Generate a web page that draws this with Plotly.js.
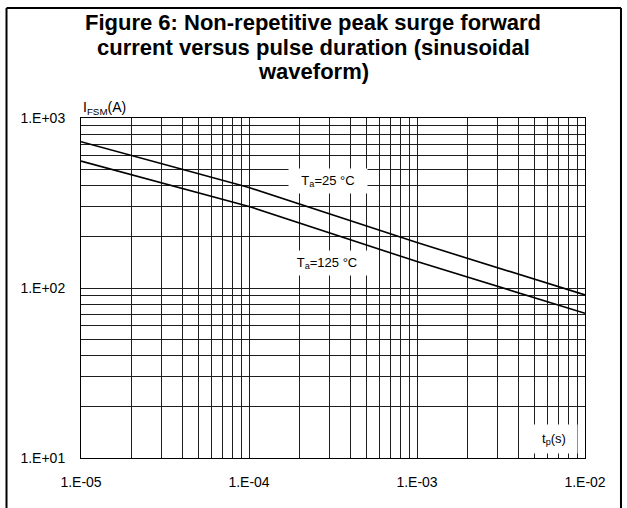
<!DOCTYPE html>
<html>
<head>
<meta charset="utf-8">
<script src="https://cdn.plot.ly/plotly-3.0.1.min.js"></script>
<style>html,body{margin:0;padding:0;background:#fff;}</style>
</head>
<body>
<div id="chart" style="width:627px;height:508px;"></div>
<script>
// Pulse duration tp (s)
const pulseDuration = [1e-5, 1e-4, 1e-3, 1e-2];
// IFSM (A) at Ta = 25 °C
const ifsm25 = [725, 390, 185, 91];
// IFSM (A) at Ta = 125 °C
const ifsm125 = [558, 302, 143, 71];

const xTickVals = [1e-5, 1e-4, 1e-3, 1e-2];
const xTickText = ['1.E-05', '1.E-04', '1.E-03', '1.E-02'];
const yTickVals = [10, 100, 1000];
const yTickText = ['1.E+01', '1.E+02', '1.E+03'];
const minorDigits = [2, 3, 4, 5, 6, 7, 8, 9];
const titleLines = [
  'Figure 6: Non-repetitive peak surge forward',
  'current versus pulse duration (sinusoidal',
  'waveform)'
];

const xMinor = [];
xTickVals.slice(0, -1).forEach(d => minorDigits.forEach(m => xMinor.push(d * m)));
const yMinor = [];
yTickVals.slice(0, -1).forEach(d => minorDigits.forEach(m => yMinor.push(d * m)));

const FONT = 'Arial, "Liberation Sans", sans-serif';
const GRID = '#1e1e1e';

const traces = [
  {x: pulseDuration, y: ifsm25, mode: 'lines', line: {color: 'black', width: 1.6}, hoverinfo: 'skip', showlegend: false},
  {x: pulseDuration, y: ifsm125, mode: 'lines', line: {color: 'black', width: 1.6}, hoverinfo: 'skip', showlegend: false}
];

const titleY = [1.280, 1.208, 1.136];
const titleAnn = titleLines.map((t, i) => ({
  text: t, xref: 'paper', yref: 'paper', x: 0.4613, y: titleY[i], xanchor: 'center', yanchor: 'middle',
  showarrow: false, font: {family: FONT, size: 22, color: 'black', weight: 'bold'}
}));

const layout = {
  width: 627, height: 508,
  margin: {l: 81, r: 42, t: 118, b: 50, pad: 0},
  paper_bgcolor: 'white', plot_bgcolor: 'white',
  font: {family: FONT, color: 'black'},
  showlegend: false,
  xaxis: {
    type: 'log', range: [-5, -2],
    tickmode: 'array', tickvals: xTickVals, ticktext: xTickText,
    ticks: '', ticklabelstandoff: 11,
    tickfont: {family: FONT, size: 14, color: 'black'},
    showgrid: true, gridcolor: GRID, gridwidth: 1,
    minor: {tickmode: 'array', tickvals: xMinor, showgrid: true, gridcolor: GRID, gridwidth: 1, ticks: ''},
    showline: true, linecolor: 'black', linewidth: 1, mirror: true,
    zeroline: false, fixedrange: true
  },
  yaxis: {
    type: 'log', range: [1, 3],
    tickmode: 'array', tickvals: yTickVals, ticktext: yTickText,
    ticks: '', ticklabelstandoff: 12,
    tickfont: {family: FONT, size: 14, color: 'black'},
    showgrid: true, gridcolor: GRID, gridwidth: 1,
    minor: {tickmode: 'array', tickvals: yMinor, showgrid: true, gridcolor: GRID, gridwidth: 1, ticks: ''},
    showline: true, linecolor: 'black', linewidth: 1, mirror: true,
    zeroline: false, fixedrange: true
  },
  annotations: titleAnn.concat([
    {text: 'I<sub>FSM</sub>(A)', xref: 'paper', yref: 'paper', x: 0.0, y: 1.029, xanchor: 'left', yanchor: 'middle',
     showarrow: false, font: {family: FONT, size: 14, color: 'black'}},
    {text: 'T<sub>a</sub>=25 °C', xref: 'paper', yref: 'paper', x: 0.490, y: 0.815, xanchor: 'center', yanchor: 'middle',
     showarrow: false, bgcolor: 'white', width: 76, height: 22, font: {family: FONT, size: 13, color: 'black'}},
    {text: 'T<sub>a</sub>=125 °C', xref: 'paper', yref: 'paper', x: 0.488, y: 0.574, xanchor: 'center', yanchor: 'middle',
     showarrow: false, bgcolor: 'white', width: 86, height: 22, font: {family: FONT, size: 13, color: 'black'}},
    {text: 't<sub>p</sub>(s)', xref: 'paper', yref: 'paper', x: 0.938, y: 0.056, xanchor: 'center', yanchor: 'middle',
     showarrow: false, bgcolor: 'white', width: 44, height: 26, font: {family: FONT, size: 13, color: 'black'}}
  ]),
  shapes: [
    {type: 'line', xref: 'paper', yref: 'paper', x0: -0.1478, x1: -0.1478, y0: -0.2, y1: 1.3235, line: {color: 'black', width: 2}},
    {type: 'line', xref: 'paper', yref: 'paper', x0: 1.0714, x1: 1.0714, y0: -0.2, y1: 1.3235, line: {color: 'black', width: 2}},
    {type: 'line', xref: 'paper', yref: 'paper', x0: -0.1478, x1: 1.0714, y0: 1.3235, y1: 1.3235, line: {color: 'black', width: 2}}
  ]
};

Plotly.newPlot('chart', traces, layout, {staticPlot: true, displayModeBar: false});
</script>
</body>
</html>
